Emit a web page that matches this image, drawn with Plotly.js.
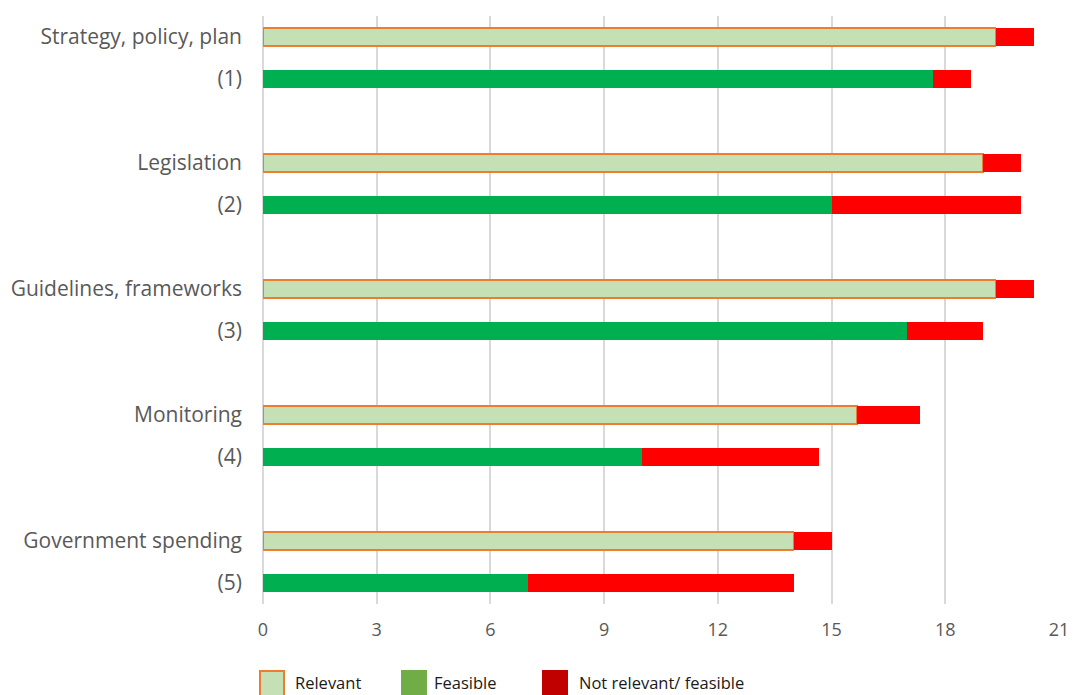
<!DOCTYPE html>
<html>
<head>
<meta charset="utf-8">
<script src="https://cdn.plot.ly/plotly-3.0.1.min.js"></script>
<style>html,body{margin:0;padding:0;background:#fff;}#chart{width:1073px;height:695px;}</style>
</head>
<body>
<div id="chart"></div>
<script>
// Data
const categories = ["Strategy, policy, plan", "Legislation", "Guidelines, frameworks", "Monitoring", "Government spending"];
const numbers = ["(1)", "(2)", "(3)", "(4)", "(5)"];
const relevant = [19.33, 19, 19.33, 15.67, 14];
const notRelevant = [1, 1, 1, 1.67, 1];
const feasible = [17.67, 15, 17, 10, 7];
const notFeasible = [1, 5, 2, 4.67, 7];
const xTicks = [0, 3, 6, 9, 12, 15, 18, 21];
const legendLabels = ["Relevant", "Feasible", "Not relevant/ feasible"];

// Slot positions: each group uses rows 3g (relevant) and 3g+1 (feasible)
const relY = categories.map((_, g) => 3 * g);
const feaY = categories.map((_, g) => 3 * g + 1);

const BW = 0.44;
const traces = [
  {type: 'bar', orientation: 'h', y: relY, x: relevant, width: BW,
   marker: {color: '#C5E0B4', line: {color: '#ED7D31', width: 1.5}}, showlegend: false, hoverinfo: 'x'},
  {type: 'bar', orientation: 'h', y: relY, x: notRelevant, width: BW,
   marker: {color: '#FF0000', line: {width: 0}}, showlegend: false, hoverinfo: 'x'},
  {type: 'bar', orientation: 'h', y: feaY, x: feasible, width: BW,
   marker: {color: '#00B050', line: {width: 0}}, showlegend: false, hoverinfo: 'x'},
  {type: 'bar', orientation: 'h', y: feaY, x: notFeasible, width: BW,
   marker: {color: '#FF0000', line: {width: 0}}, showlegend: false, hoverinfo: 'x'}
];

const tickvals = [], ticktext = [];
categories.forEach((c, g) => { tickvals.push(3 * g, 3 * g + 1); ticktext.push(c, numbers[g]); });

// legend drawn by hand (pixel helpers -> paper coords)
const L = 263, R = 14, T = 16, B = 91, W = 1073, H = 695;
const pw = W - L - R, ph = H - T - B;
const px = p => (p - L) / pw;
const py = p => (H - B - p) / ph;
const legendItems = [
  {x0: 259, tx: 293, fill: '#C5E0B4', line: '#ED7D31'},
  {x0: 401, tx: 432, fill: '#70AD47', line: '#70AD47'},
  {x0: 542, tx: 577, fill: '#C00000', line: '#C00000'}
];
const shapes = legendItems.map(it => ({
  type: 'rect', xref: 'paper', yref: 'paper',
  x0: px(it.x0 + 1), x1: px(it.x0 + 25), y0: py(671), y1: py(697),
  fillcolor: it.fill, line: {color: it.line, width: 2}
}));
const annotations = legendItems.map((it, i) => ({
  xref: 'paper', yref: 'paper', x: px(it.tx), y: py(682), xanchor: 'left', yanchor: 'middle',
  text: legendLabels[i], showarrow: false, font: {size: 16.5, color: '#1a1a1a', family: 'Open Sans, sans-serif'}
}));

const layout = {
  width: W, height: H,
  margin: {l: L, r: R, t: T, b: B, pad: 0},
  paper_bgcolor: '#ffffff', plot_bgcolor: '#ffffff',
  barmode: 'stack',
  showlegend: false,
  font: {family: 'Open Sans, sans-serif', size: 18, color: '#595959'},
  xaxis: {range: [0, 21], tickvals: xTicks, showgrid: true, gridcolor: '#d9d9d9', gridwidth: 2,
          zeroline: true, zerolinecolor: '#d9d9d9', zerolinewidth: 2, showline: false,
          ticks: '', ticklabelstandoff: 13, tickfont: {size: 18, color: '#595959'}},
  yaxis: {range: [13.5, -0.5], tickvals: tickvals, ticktext: ticktext, showgrid: false,
          zeroline: false, showline: false, ticks: '', ticklabelstandoff: 20,
          tickfont: {size: 21, color: '#595959'}},
  shapes: shapes,
  annotations: annotations
};

Plotly.newPlot('chart', traces, layout, {displayModeBar: false, staticPlot: true});
</script>
</body>
</html>
